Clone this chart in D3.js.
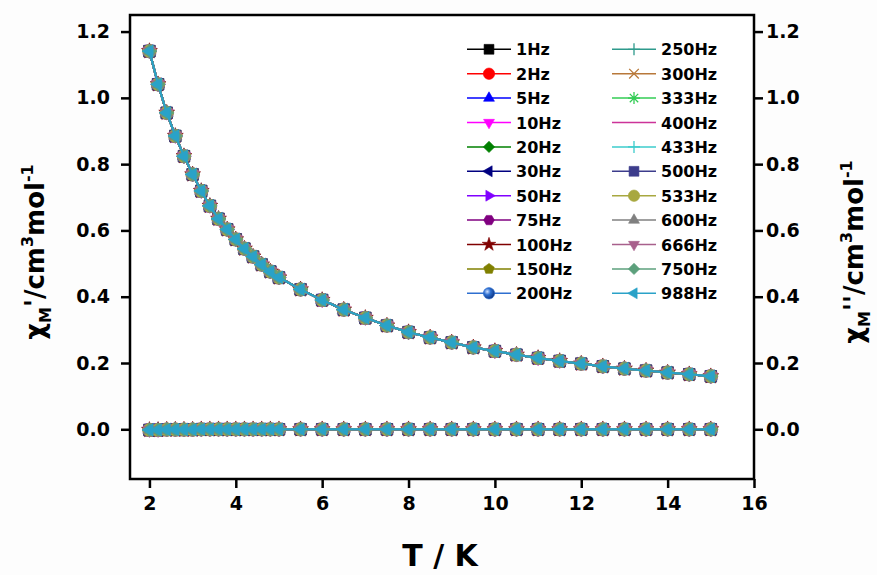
<!DOCTYPE html>
<html>
<head>
<meta charset="utf-8">
<script src="https://cdn.jsdelivr.net/npm/d3@7"></script>
<style>
  body { margin: 0; background: #fdfdfd; }
  svg { font-family: "DejaVu Sans", sans-serif; font-weight: bold; }
</style>
</head>
<body>
<div id="chart"></div>
<script>
// Temperature points (K)
var temps = [2.0, 2.2, 2.4, 2.6, 2.8, 3.0, 3.2, 3.4, 3.6, 3.8, 4.0, 4.2, 4.4, 4.6, 4.8, 5.0,
             5.5, 6.0, 6.5, 7.0, 7.5, 8.0, 8.5, 9.0, 9.5, 10.0, 10.5, 11.0, 11.5, 12.0,
             12.5, 13.0, 13.5, 14.0, 14.5, 15.0];

// in-phase susceptibility (same for every frequency within the eye's reach)
var chiReal = [1.141, 1.041, 0.955, 0.885, 0.824, 0.769, 0.719, 0.674, 0.635, 0.603, 0.573, 0.545,
               0.521, 0.497, 0.476, 0.458, 0.422, 0.390, 0.361, 0.336, 0.313, 0.293, 0.277, 0.262,
               0.247, 0.236, 0.225, 0.215, 0.206, 0.198, 0.190, 0.183, 0.177, 0.171, 0.166, 0.160];

// out-of-phase susceptibility (essentially zero)
var chiImag = [-0.002, -0.002, -0.001, -0.001, -0.001, -0.001, 0.000, 0.000, 0.000, 0.000, 0.000, 0.000,
               0.000, 0.000, 0.000, 0.000, 0.000, 0.000, 0.000, 0.000, 0.000, 0.000, 0.000, 0.000,
               0.000, 0.000, 0.000, 0.000, 0.000, 0.000, 0.000, 0.000, 0.000, 0.000, 0.000, 0.000];

var freqs = ["1Hz", "2Hz", "5Hz", "10Hz", "20Hz", "30Hz", "50Hz", "75Hz", "100Hz", "150Hz", "200Hz",
             "250Hz", "300Hz", "333Hz", "400Hz", "433Hz", "500Hz", "533Hz", "600Hz", "666Hz", "750Hz", "988Hz"];
var colors = ["#000000", "#ff0000", "#0000ff", "#ff00ff", "#008000", "#000080", "#8000ff", "#800080",
              "#800000", "#808000", "#2e6fd0", "#2e9a8c", "#b8783a", "#33cc55", "#cc3399", "#3ccccc",
              "#3c3c8c", "#a8a840", "#808080", "#a8608c", "#5ca07c", "#2aa2c8"];
var shapes = ["square", "circle", "up", "down", "diamond", "left", "right", "hexagon", "star", "pentagon",
              "sphere", "plus", "cross", "asterisk", "dash", "plus", "square", "circle", "up", "down",
              "diamond", "left"];

var xTicks = [2, 4, 6, 8, 10, 12, 14, 16];
var yTicks = [0.0, 0.2, 0.4, 0.6, 0.8, 1.0, 1.2];

var W = 877, H = 575;
var margin = {top: 15, right: 123, bottom: 96, left: 130};
var w = W - margin.left - margin.right;
var h = H - margin.top - margin.bottom;

var svg = d3.select("#chart").append("svg")
    .attr("width", W).attr("height", H);

var defs = svg.append("defs");
var grad = defs.append("radialGradient").attr("id", "sph")
    .attr("cx", "35%").attr("cy", "35%").attr("r", "65%");
grad.append("stop").attr("offset", "0%").attr("stop-color", "#cfe0ff");
grad.append("stop").attr("offset", "45%").attr("stop-color", "#2e6fd0");
grad.append("stop").attr("offset", "100%").attr("stop-color", "#103a8a");

var x = d3.scaleLinear().domain([1.55, 16]).range([0, w]);
var y = d3.scaleLinear().domain([-0.15, 1.25]).range([h, 0]);

var g = svg.append("g").attr("transform", "translate(" + margin.left + "," + margin.top + ")");

// plot background
g.append("rect").attr("width", w).attr("height", h).attr("fill", "#ffffff");

// polygon helper
function poly(n, r, rot) {
    var pts = [];
    for (var i = 0; i < n; i++) {
        var a = rot + i * 2 * Math.PI / n;
        pts.push([r * Math.cos(a), r * Math.sin(a)]);
    }
    return "M" + pts.map(function(p) { return p[0].toFixed(2) + "," + p[1].toFixed(2); }).join("L") + "Z";
}

function markerPath(shape, s) {
    var r = s / 2;
    switch (shape) {
        case "square": return "M" + (-r * 0.82) + "," + (-r * 0.82) + "h" + (r * 1.64) + "v" + (r * 1.64) + "h" + (-r * 1.64) + "Z";
        case "circle": case "sphere": return d3.symbol(d3.symbolCircle, Math.PI * r * r * 0.9)();
        case "up": return poly(3, r * 1.05, -Math.PI / 2);
        case "down": return poly(3, r * 1.05, Math.PI / 2);
        case "left": return poly(3, r * 1.05, Math.PI);
        case "right": return poly(3, r * 1.05, 0);
        case "diamond": return poly(4, r * 0.95, 0);
        case "hexagon": return poly(6, r * 0.9, 0);
        case "pentagon": return poly(5, r * 0.92, -Math.PI / 2);
        case "star": return d3.symbol(d3.symbolStar, r * r * 1.6)();
        case "plus": return "M" + (-r) + ",0H" + r + "M0," + (-r) + "V" + r;
        case "cross": return "M" + (-r * 0.8) + "," + (-r * 0.8) + "L" + (r * 0.8) + "," + (r * 0.8) + "M" + (-r * 0.8) + "," + (r * 0.8) + "L" + (r * 0.8) + "," + (-r * 0.8);
        case "asterisk": return "M" + (-r) + ",0H" + r + "M0," + (-r) + "V" + r +
            "M" + (-r * 0.7) + "," + (-r * 0.7) + "L" + (r * 0.7) + "," + (r * 0.7) + "M" + (-r * 0.7) + "," + (r * 0.7) + "L" + (r * 0.7) + "," + (-r * 0.7);
        case "dash": return "M0,0";
    }
}

function isOpen(shape) { return shape == "plus" || shape == "cross" || shape == "asterisk" || shape == "dash"; }

function drawMarker(sel, i, size) {
    var sh = shapes[i];
    sel.append("path")
        .attr("d", markerPath(sh, size))
        .attr("fill", isOpen(sh) ? "none" : (sh == "sphere" ? "url(#sph)" : colors[i]))
        .attr("stroke", colors[i])
        .attr("stroke-width", isOpen(sh) ? 1.3 : 0.6);
}

var line = d3.line().x(function(d) { return x(d[0]); }).y(function(d) { return y(d[1]); });

var plot = g.append("g");
[chiReal, chiImag].forEach(function(vals) {
    freqs.forEach(function(f, i) {
        var pts = temps.map(function(t, k) { return [t, vals[k]]; });
        plot.append("path").datum(pts)
            .attr("d", line)
            .attr("fill", "none")
            .attr("stroke", colors[i])
            .attr("stroke-width", 2);
        pts.forEach(function(p) {
            var m = plot.append("g").attr("transform", "translate(" + x(p[0]) + "," + y(p[1]) + ")");
            drawMarker(m, i, 14);
        });
    });
});

// axes
var axisStroke = 2.5;
var xAxis = g.append("g").attr("transform", "translate(0," + h + ")")
    .call(d3.axisBottom(x).tickValues(xTicks).tickFormat(d3.format("d")).tickSize(9).tickPadding(9));
var yAxisL = g.append("g")
    .call(d3.axisLeft(y).tickValues(yTicks).tickFormat(d3.format(".1f")).tickSize(9).tickPadding(11));
var yAxisR = g.append("g").attr("transform", "translate(" + w + ",0)")
    .call(d3.axisRight(y).tickValues(yTicks).tickFormat(d3.format(".1f")).tickSize(9).tickPadding(3));

[xAxis, yAxisL, yAxisR].forEach(function(a) {
    a.attr("font-size", null).attr("font-family", null);
    a.select(".domain").remove();
    a.selectAll(".tick line").attr("stroke", "#000").attr("stroke-width", axisStroke);
    a.selectAll(".tick text")
        .style("font-size", "19px").style("font-weight", "bold")
        .style("font-family", "'DejaVu Sans', sans-serif").attr("fill", "#000");
});

// frame
g.append("rect").attr("width", w).attr("height", h)
    .attr("fill", "none").attr("stroke", "#000").attr("stroke-width", axisStroke);

// axis titles
svg.append("text").attr("x", 440).attr("y", 566)
    .attr("text-anchor", "middle").style("font-size", "30px").text("T / K");

function yTitle(xpos, prime) {
    var t = svg.append("text")
        .attr("transform", "translate(" + xpos + ",252) rotate(-90)")
        .attr("text-anchor", "middle").style("font-size", "26px");
    t.append("tspan").text("\u03c7");
    t.append("tspan").style("font-size", "16px").attr("dy", 7).text("M");
    t.append("tspan").attr("dy", -7).text(prime + "/cm");
    t.append("tspan").style("font-size", "16px").attr("dy", -11).text("3");
    t.append("tspan").attr("dy", 11).text("mol");
    t.append("tspan").style("font-size", "16px").attr("dy", -11).text("-1");
}
yTitle(44, "'");
yTitle(863, "''");

// legend
var legend = svg.append("g");
freqs.forEach(function(f, i) {
    var col = i < 11 ? 0 : 1;
    var row = i % 11;
    var lx = col == 0 ? 467 : 612;
    var ly = 49.3 + row * 24.4;
    var lg = legend.append("g").attr("transform", "translate(" + lx + "," + ly + ")");
    lg.append("line").attr("x1", 0).attr("x2", 44).attr("y1", 0).attr("y2", 0)
        .attr("stroke", colors[i]).attr("stroke-width", 1.5);
    drawMarker(lg.append("g").attr("transform", "translate(22,0)"), i, 12);
    lg.append("text").attr("x", 49).attr("y", 6).style("font-size", "16px").text(f);
});
</script>
</body>
</html>
